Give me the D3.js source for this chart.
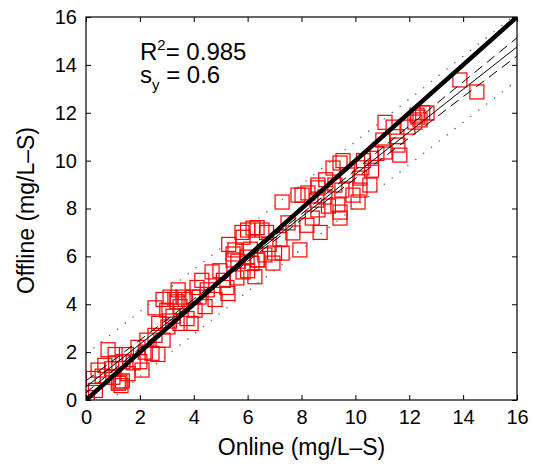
<!DOCTYPE html>
<html>
<head>
<meta charset="utf-8">
<script src="https://cdn.jsdelivr.net/npm/d3@7"></script>
<style>
  body { margin: 0; background: #fff; }
  text { font-family: "Liberation Sans", Arial, Helvetica, sans-serif; fill: #000; }
</style>
</head>
<body>
<div id="chart"></div>
<script>
const onlineVals = [0.05, 0.27, 0.45, 0.7, 0.82, 1.08, 1.26, 1.3, 1.35, 1.2, 1.37, 1.56, 1.75, 2.08, 1.93, 2.26, 2.45, 2.67, 2.56, 2.86,
  3.04, 3.23, 3.49, 3.75, 4.05, 2.56, 2.86, 3.12, 3.38, 3.6, 3.97, 3.0, 3.49, 3.42, 3.3, 3.68, 4.12, 4.42, 4.68, 4.97,
  4.79, 5.23, 5.27, 5.46, 5.64, 5.83, 6.0, 6.16, 5.79, 6.0, 6.35, 6.27, 6.35, 7.28, 7.87, 8.61, 9.17, 9.43, 8.61, 8.57,
  8.87, 9.43, 9.43, 8.2, 8.69, 7.68, 7.94, 7.28, 7.0, 6.2, 6.53, 5.83, 5.53, 5.46, 5.98, 6.64, 6.38, 6.94, 11.1, 11.4,
  12.29, 12.5, 12.4, 11.02, 11.54, 11.58, 11.1, 10.8, 11.65, 10.6, 10.6, 10.24, 9.54, 10.17, 10.54, 10.17, 9.5, 9.24, 8.61, 8.24,
  8.02, 9.91, 10.1, 9.35, 13.88, 14.51, 12.66, 12.32, 12.21, 11.95,
  0.6, 0.95, 1.1, 1.5, 1.0, 0.35, 2.2, 2.0, 3.1, 2.7, 3.9, 4.2, 4.5, 4.3, 5.1, 5.6, 6.8, 6.1, 7.2, 7.5, 6.7, 5.3,
  8.9, 9.7, 10.3, 9.0, 8.4];
const offlineVals = [0.1, 0.9, 1.25, 1.45, 2.1, 1.9, 0.75, 0.6, 0.8, 0.7, 1.6, 1.1, 1.55, 1.25, 2.2, 2.5, 1.95, 1.9, 2.7, 2.5,
  3.05, 3.5, 3.2, 3.4, 3.75, 3.85, 4.2, 4.3, 4.1, 4.3, 4.3, 3.75, 3.9, 4.6, 4.2, 4.2, 4.7, 3.9, 5.35, 5.4,
  4.2, 4.7, 4.45, 6.1, 5.8, 5.35, 5.4, 5.7, 7.0, 7.1, 7.2, 5.15, 5.85, 8.27, 8.56, 8.98, 9.69, 9.9, 7.94, 8.35,
  8.48, 7.85, 7.6, 7.3, 7.0, 6.98, 6.27, 6.14, 6.14, 7.18, 7.1, 6.8, 6.27, 5.85, 5.97, 6.06, 5.85, 5.72, 11.6, 11.4,
  11.9, 12.0, 11.7, 10.86, 11.0, 10.65, 10.36, 10.3, 10.23, 10.1, 9.6, 9.7, 10.0, 9.27, 8.98, 8.77, 8.77, 8.98, 8.86, 8.65,
  8.56, 8.56, 8.27, 8.15, 13.37, 12.87, 11.99, 11.82, 11.61, 11.4,
  1.0, 1.3, 1.55, 1.9, 0.95, 0.4, 2.0, 1.6, 3.3, 3.2, 3.2, 4.3, 4.6, 5.0, 5.0, 5.1, 6.5, 6.3, 6.7, 7.4, 7.0, 6.5,
  9.2, 9.4, 10.0, 8.1, 7.6];

// regression line and bands (read at x = 0, 2, ..., 16)
const bandX = [0, 2, 4, 6, 8, 10, 12, 14, 16];
const fitY = [0.55, 2.33, 4.10, 5.88, 7.65, 9.43, 11.2, 12.98, 14.75];
const confUpper = [0.80, 2.50, 4.21, 5.97, 7.77, 9.61, 11.45, 13.29, 15.13];
const confLower = [0.30, 2.16, 3.99, 5.79, 7.53, 9.25, 10.95, 12.67, 14.37];
const predUpper = [1.92, 3.69, 5.45, 7.23, 9.0, 10.79, 12.57, 14.36, 16.15];
const predLower = [-0.82, 0.97, 2.75, 4.53, 6.30, 8.07, 9.83, 11.60, 13.35];

const axisTicks = [0, 2, 4, 6, 8, 10, 12, 14, 16];

const width = 533, height = 468;
const box = { left: 86, right: 517, top: 17, bottom: 400 };

const svg = d3.select("#chart").append("svg")
    .attr("width", width)
    .attr("height", height);

const x = d3.scaleLinear().domain([0, 16]).range([box.left, box.right]);
const y = d3.scaleLinear().domain([0, 16]).range([box.bottom, box.top]);

svg.append("defs").append("clipPath").attr("id", "plotclip")
    .append("rect")
    .attr("x", box.left).attr("y", box.top)
    .attr("width", box.right - box.left).attr("height", box.bottom - box.top);

const plot = svg.append("g").attr("clip-path", "url(#plotclip)");

// points
plot.selectAll("rect.pt")
    .data(d3.zip(onlineVals, offlineVals))
    .enter()
    .append("rect")
    .attr("class", "pt")
    .attr("x", d => x(d[0]) - 7)
    .attr("y", d => y(d[1]) - 7)
    .attr("width", 14)
    .attr("height", 14)
    .attr("fill", "none")
    .attr("stroke", "#ff0000")
    .attr("stroke-width", 1.2);

const line = d3.line().x(d => x(d[0])).y(d => y(d[1]));

// prediction band, dotted
[predUpper, predLower].forEach(vals => {
    plot.append("path")
        .attr("d", line(d3.zip(bandX, vals)))
        .attr("fill", "none")
        .attr("stroke", "#666")
        .attr("stroke-width", 1.6)
        .attr("stroke-linecap", "round")
        .attr("stroke-dasharray", "0,10");
});

// confidence band, dashed
[confUpper, confLower].forEach(vals => {
    plot.append("path")
        .attr("d", line(d3.zip(bandX, vals)))
        .attr("fill", "none")
        .attr("stroke", "#000")
        .attr("stroke-width", 1)
        .attr("stroke-dasharray", "10,6");
});

// fit line
plot.append("path")
    .attr("d", line(d3.zip(bandX, fitY)))
    .attr("fill", "none")
    .attr("stroke", "#000")
    .attr("stroke-width", 1);

// 1:1 line
plot.append("path")
    .attr("d", line([[0, 0], [16, 16]]))
    .attr("fill", "none")
    .attr("stroke", "#000")
    .attr("stroke-width", 4.5);

// axes, ticks pointing in
const fontSize = "20px";
const xAxis = svg.append("g")
    .attr("transform", "translate(0," + box.bottom + ")")
    .call(d3.axisBottom(x).tickValues(axisTicks).tickSizeInner(-5).tickSizeOuter(0).tickPadding(10));
const xTop = svg.append("g")
    .attr("transform", "translate(0," + box.top + ")")
    .call(d3.axisTop(x).tickValues(axisTicks).tickSizeInner(-5).tickSizeOuter(0).tickFormat(""));
const yAxis = svg.append("g")
    .attr("transform", "translate(" + box.left + ",0)")
    .call(d3.axisLeft(y).tickValues(axisTicks).tickSizeInner(-5).tickSizeOuter(0).tickPadding(9));
const yRight = svg.append("g")
    .attr("transform", "translate(" + box.right + ",0)")
    .call(d3.axisRight(y).tickValues(axisTicks).tickSizeInner(-5).tickSizeOuter(0).tickFormat(""));

[xAxis, xTop, yAxis, yRight].forEach(g => {
    g.select(".domain").remove();
    g.selectAll("line").attr("stroke", "#000");
    g.selectAll("text")
        .style("font-family", "'Liberation Sans', Arial, sans-serif")
        .style("font-size", fontSize)
        .attr("fill", "#000");
});

svg.append("rect")
    .attr("x", box.left).attr("y", box.top)
    .attr("width", box.right - box.left).attr("height", box.bottom - box.top)
    .attr("fill", "none")
    .attr("stroke", "#000")
    .attr("stroke-width", 1.2);

// axis labels
svg.append("text")
    .attr("x", (box.left + box.right) / 2)
    .attr("y", 455)
    .attr("text-anchor", "middle")
    .style("font-size", "23px")
    .text("Online (mg/L–S)");

svg.append("text")
    .attr("transform", "translate(34," + ((box.top + box.bottom) / 2 + 2) + ") rotate(-90)")
    .attr("text-anchor", "middle")
    .style("font-size", "23px")
    .text("Offline (mg/L–S)");

// stats annotation
const r2 = svg.append("text").attr("x", 140).attr("y", 60).style("font-size", "24px");
r2.append("tspan").text("R");
r2.append("tspan").attr("dy", -10).style("font-size", "15px").text("2");
r2.append("tspan").attr("dy", 10).text("= 0.985");

const sy = svg.append("text").attr("x", 140).attr("y", 83).style("font-size", "24px");
sy.append("tspan").text("s");
sy.append("tspan").attr("dy", 7).style("font-size", "15px").text("y");
sy.append("tspan").attr("dy", -7).text(" = 0.6");
</script>
</body>
</html>
